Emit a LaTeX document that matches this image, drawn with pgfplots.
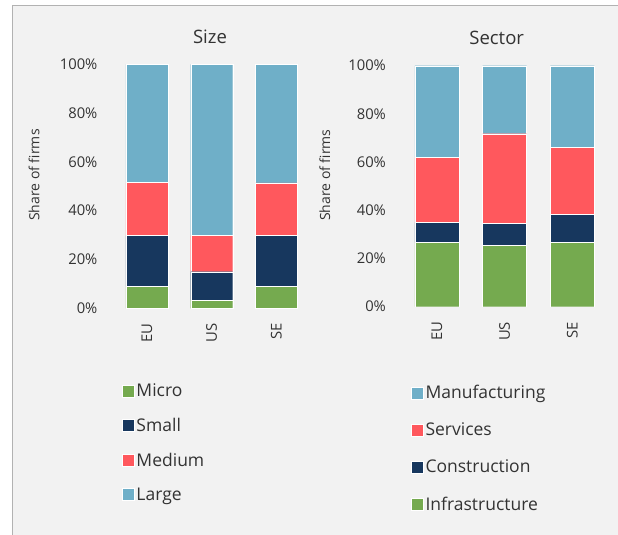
\documentclass[border=0pt]{standalone}
\usepackage{pgfplots}
\pgfplotsset{compat=1.18}
\usepackage{fontspec}
\setmainfont{Open Sans}
\definecolor{cgreen}{HTML}{75AA4F}
\definecolor{cnavy}{HTML}{17375E}
\definecolor{cred}{HTML}{FF585D}
\definecolor{cblue}{HTML}{6FAFC8}
\definecolor{bg}{HTML}{F2F2F2}
\definecolor{txt}{HTML}{333333}
\pgfplotsset{
  mystyle/.style={
    scale only axis, anchor=south west,
    ybar stacked, bar width=0.65,
    xmin=-0.5, xmax=2.5, ymin=0, ymax=100,
    xtick={0,1,2}, xticklabels={EU,US,SE},
    ytick={0,20,...,100},
    /pgf/number format/assume math mode=true,
    yticklabel={\pgfmathprintnumber{\tick}\%},
    axis line style={draw=none}, major tick length=0pt,
    tick label style={font=\fontsize{14.8}{16}\selectfont, text=txt},
    x tick label style={rotate=90, anchor=east, inner sep=0pt},
    y tick label style={anchor=east, inner sep=0pt},
    xticklabel shift=15pt, yticklabel shift=17pt,
    ylabel={Share of firms},
    label style={font=\fontsize{14}{16}\selectfont, text=txt},
    title style={font=\fontsize{18.5}{20}\selectfont, text=txt, anchor=base},
    every axis plot/.append style={draw=white, line width=0.3pt},
    legend cell align=left,
    legend image code/.code={\fill[#1] (0pt,-6pt) rectangle (12pt,6pt);},
    legend style={draw=none, fill=none, anchor=north west, inner sep=0pt,
      font=\fontsize{17.5}{19}\selectfont, text=txt, row sep=16pt,
      nodes={inner sep=2pt}},
  }
}
\begin{document}
\begin{tikzpicture}
\useasboundingbox (0pt,0pt) rectangle (618pt,535pt);
\fill[white] (0pt,0pt) rectangle (618pt,535pt);
\fill[bg] (12pt,0pt) rectangle (618pt,529pt);
\draw[black!30, line width=1pt] (12pt,0pt) -- (12pt,529pt) -- (618pt,529pt);

\begin{axis}[mystyle, at={(114.6pt,226.7pt)}, width=194.2pt, height=244pt,
  title={Size}, title style={at={(axis description cs:0.491,1.059)}},
  ylabel style={at={(axis description cs:-0.415,0.546)}, anchor=center},
  legend style={at={(axis description cs:0.038,-0.300)}}]
\addplot[fill=cgreen] coordinates {(0,9.0) (1,3.3) (2,9.0)};
\addlegendentry{Micro}
\addplot[fill=cnavy] coordinates {(0,20.8) (1,11.7) (2,20.8)};
\addlegendentry{Small}
\addplot[fill=cred] coordinates {(0,21.8) (1,14.8) (2,21.6)};
\addlegendentry{Medium}
\addplot[fill=cblue] coordinates {(0,48.4) (1,70.2) (2,48.6)};
\addlegendentry{Large}
\end{axis}

\begin{axis}[mystyle, at={(403.1pt,228.3pt)}, width=203pt, height=241pt,
  title={Sector}, title style={at={(axis description cs:0.461,1.065)}},
  ylabel style={at={(axis description cs:-0.385,0.546)}, anchor=center},
  reverse legend,
  legend style={at={(axis description cs:0.039,-0.318)}, row sep=18.5pt}]
\addplot[fill=cgreen] coordinates {(0,26.7) (1,25.5) (2,26.7)};
\addlegendentry{Infrastructure}
\addplot[fill=cnavy] coordinates {(0,8.3) (1,9.2) (2,11.5)};
\addlegendentry{Construction}
\addplot[fill=cred] coordinates {(0,27.0) (1,37.1) (2,27.8)};
\addlegendentry{Services}
\addplot[fill=cblue] coordinates {(0,38.0) (1,28.2) (2,34.0)};
\addlegendentry{Manufacturing}
\end{axis}
\end{tikzpicture}
\end{document}
